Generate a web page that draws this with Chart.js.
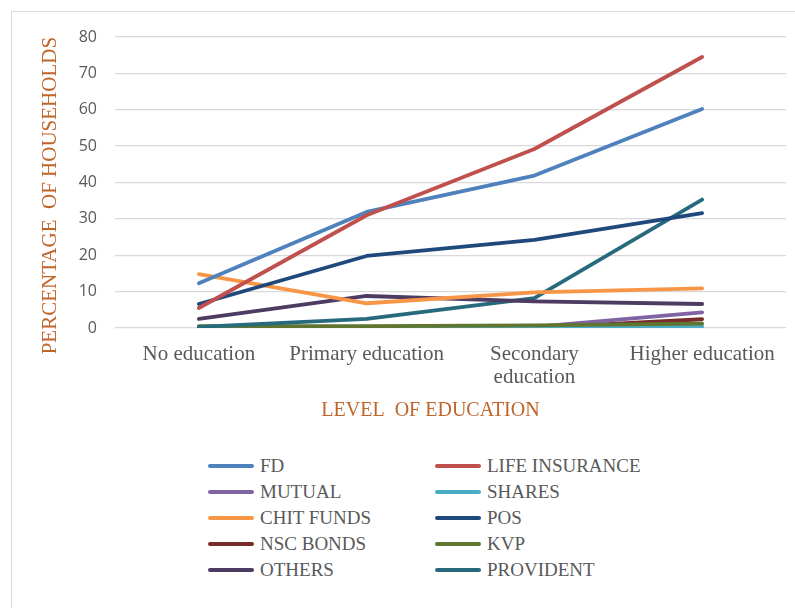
<!DOCTYPE html>
<html>
<head>
<meta charset="utf-8">
<script src="https://cdn.jsdelivr.net/npm/chart.js@4.4.1/dist/chart.umd.min.js"></script>
<style>
  html, body { margin: 0; padding: 0; background: #fff; overflow: hidden; }
  body { width: 795px; height: 608px; position: relative; }
  #frame { position: absolute; left: 11px; top: 11px; width: 820px; height: 700px; border: 1px solid #d9d9d9; box-sizing: border-box; }
  #wrap { position: absolute; left: 0; top: 0; width: 795px; height: 440px; }
  #legend { position: absolute; left: 208px; top: 453px; display: grid; grid-template-columns: 227px 227px; grid-auto-rows: 26px;
            font-family: "Liberation Serif", serif; font-size: 19px; color: #595959; }
  #legend .item { display: flex; align-items: center; }
  #legend .swatch { width: 46px; height: 4px; border-radius: 2px; margin-right: 6px; }
</style>
</head>
<body>
<div id="frame"></div>
<div id="wrap"><canvas id="chart" width="795" height="440"></canvas></div>
<div id="legend"></div>
<script>
const categories = ['No education', 'Primary education', ['Secondary', 'education'], 'Higher education'];
const seriesNames = ['FD', 'LIFE INSURANCE', 'MUTUAL', 'SHARES', 'CHIT FUNDS', 'POS', 'NSC BONDS', 'KVP', 'OTHERS', 'PROVIDENT'];
const seriesColors = ['#4F81BD', '#C0504D', '#8064A2', '#4BACC6', '#F79646', '#1F497D', '#772C2A', '#5F7530', '#4D3B62', '#276A7C'];

const fd = [12.3, 31.9, 41.9, 60.2];
const lifeInsurance = [5.5, 31.0, 49.2, 74.5];
const mutual = [0, 0, 0.3, 4.3];
const shares = [0, 0.1, 0.2, 0.4];
const chitFunds = [14.8, 6.8, 9.8, 10.9];
const pos = [6.6, 19.8, 24.2, 31.6];
const nscBonds = [0, 0, 0, 2.4];
const kvp = [0.5, 0.5, 0.7, 1.2];
const others = [2.5, 8.8, 7.3, 6.6];
const provident = [0.3, 2.5, 8.2, 35.3];

const yTicks = [0, 10, 20, 30, 40, 50, 60, 70, 80];

const allValues = [fd, lifeInsurance, mutual, shares, chitFunds, pos, nscBonds, kvp, others, provident];

const datasets = seriesNames.map((name, i) => ({
    label: name,
    data: allValues[i],
    borderColor: seriesColors[i],
    backgroundColor: seriesColors[i],
    borderWidth: 3.8,
    pointRadius: 0,
    borderCapStyle: 'round',
    borderJoinStyle: 'round',
    tension: 0
}));

// draw order: put the ones on top like in the picture
const drawOrder = [6, 2, 3, 7, 9, 8, 4, 5, 0, 1];
datasets.forEach((d, i) => { d.order = 10 - drawOrder.indexOf(i); });

const titleColor = '#C0652A';
const tickColor = '#595959';
const nbsp = '\u00a0';

new Chart(document.getElementById('chart'), {
    type: 'line',
    data: { labels: categories, datasets: datasets },
    options: {
        responsive: false,
        animation: false,
        layout: { padding: { left: 34, right: 9, top: 37, bottom: 13 } },
        plugins: { legend: { display: false }, tooltip: { enabled: false } },
        scales: {
            x: {
                offset: true,
                grid: { display: false, drawTicks: false },
                border: { display: false },
                ticks: {
                    color: tickColor,
                    font: { family: 'Liberation Serif', size: 21, lineHeight: 1.1 },
                    maxRotation: 0,
                    autoSkip: false,
                    padding: 15
                },
                title: {
                    display: true,
                    // trailing spaces nudge the title a bit left, as in the original
                    text: 'LEVEL  OF EDUCATION' + nbsp.repeat(8),
                    color: titleColor,
                    font: { family: 'Liberation Serif', size: 20 },
                    padding: { top: 6 }
                },
                afterFit: (scale) => { scale.height = 99; }
            },
            y: {
                min: 0,
                max: 80,
                afterBuildTicks: (scale) => { scale.ticks = yTicks.map(v => ({ value: v })); },
                grid: { color: '#d9d9d9', lineWidth: 1.3, drawTicks: false },
                border: { display: false },
                ticks: {
                    color: tickColor,
                    font: { family: 'Open Sans', size: 16 },
                    padding: 18
                },
                title: {
                    display: true,
                    text: 'PERCENTAGE  OF HOUSEHOLDS' + nbsp.repeat(5),
                    color: titleColor,
                    font: { family: 'Liberation Serif', size: 21 },
                    padding: { bottom: 0 }
                },
                afterFit: (scale) => { scale.width = 81; }
            }
        }
    }
});

const legend = document.getElementById('legend');
seriesNames.forEach((name, i) => {
    const item = document.createElement('div');
    item.className = 'item';
    item.innerHTML = `<span class="swatch" style="background:${seriesColors[i]}"></span><span>${name}</span>`;
    legend.appendChild(item);
});
</script>
</body>
</html>
